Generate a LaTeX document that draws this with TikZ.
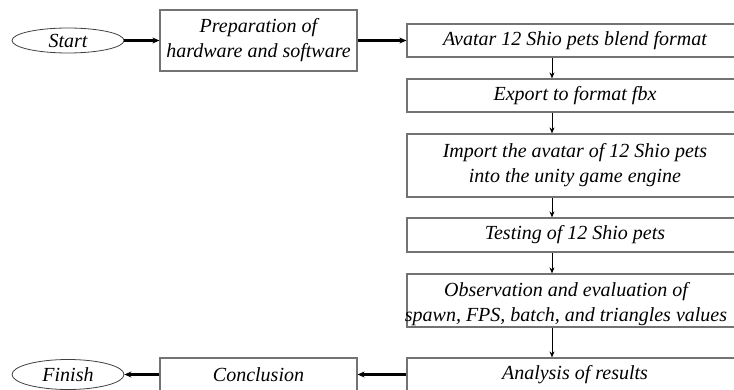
\documentclass[tikz,border=0pt]{standalone}
\usepackage{fontspec}
\setmainfont{Liberation Serif}[ItalicFont={Liberation Serif Italic}]
\usetikzlibrary{arrows.meta,shapes.geometric}
\begin{document}
\begin{tikzpicture}[x=1pt,y=-1pt,
  every node/.style={font=\fontsize{20}{25}\selectfont\itshape, inner sep=0pt},
  box/.style={draw=black!55, line width=1.2pt, rectangle, minimum width=#1, align=center},
  box/.default=336pt,
  oval/.style={draw=black!75, line width=0.8pt, ellipse, minimum width=112pt},
  harrow/.style={line width=2.2pt, -{Stealth[length=7pt,width=6pt]}},
  varrow/.style={line width=1pt, -{Stealth[length=6pt,width=5pt]}},
  txt/.style={align=center}
]
\useasboundingbox (0,0) rectangle (734,390);
\clip (0,0) rectangle (734,390);
\coordinate (vx) at (552,0);

\node[oval, minimum height=25pt] (start) at (68,40.5) {Start};
\node[box=197pt, minimum height=61pt] (prep) at (258.5,40.5) {Preparation of\\hardware and software};

\node[box, minimum height=33pt] (avatar) at (575,40.5) {Avatar 12 Shio pets blend format};
\node[box, minimum height=33pt] (export) at (575,95.5) {Export to format fbx};
\node[box, minimum height=63pt] (import) at (575,165.5) {Import the avatar of 12 Shio pets\\into the unity game engine};
\node[box, minimum height=34pt] (testing) at (575,235) {Testing of 12 Shio pets};
\node[box, minimum height=53pt] (obs) at (575,300.5) {};
\node[txt] (obstext) at (566,304) {Observation and evaluation of\\spawn, FPS, batch, and triangles values};
\node[box, minimum height=33pt] (analysis) at (575,374.5) {Analysis of results};

\node[box=197pt, minimum height=33pt] (concl) at (258.5,374.5) {Conclusion};
\node[oval, minimum height=30pt] (finish) at (68,374.5) {Finish};

\draw[harrow] (start.east) -- (prep.west);
\draw[harrow] (prep.east) -- (avatar.west);
\draw[varrow] (avatar.south -| vx) -- (export.north -| vx);
\draw[varrow] (export.south -| vx) -- (import.north -| vx);
\draw[varrow] (import.south -| vx) -- (testing.north -| vx);
\draw[varrow] (testing.south -| vx) -- (obs.north -| vx);
\draw[varrow] (obs.south -| vx) -- (analysis.north -| vx);
\draw[harrow] (analysis.west) -- (concl.east);
\draw[harrow] (concl.west) -- (finish.east);
\end{tikzpicture}
\end{document}
